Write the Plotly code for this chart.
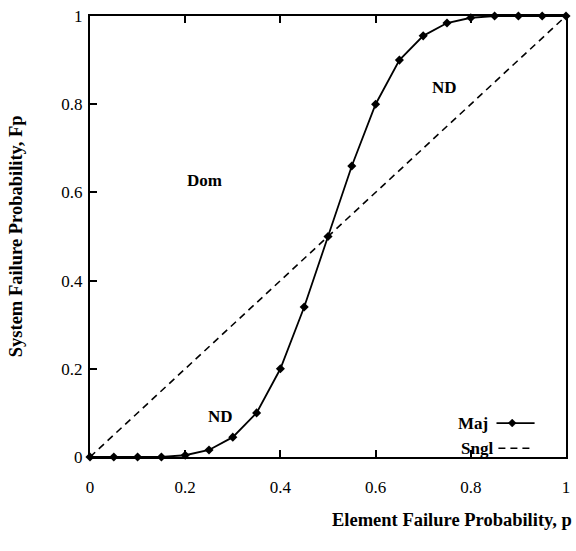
import plotly.graph_objects as go

# Data
p_values = [0.0, 0.05, 0.10, 0.15, 0.20, 0.25, 0.30, 0.35, 0.40, 0.45, 0.50,
            0.55, 0.60, 0.65, 0.70, 0.75, 0.80, 0.85, 0.90, 0.95, 1.0]
maj_values = [0.0, 0.0, 0.0, 0.0, 0.004, 0.016, 0.045, 0.10, 0.20, 0.34, 0.50,
              0.66, 0.80, 0.90, 0.955, 0.984, 0.996, 1.0, 1.0, 1.0, 1.0]
sngl_x = [0.0, 1.0]
sngl_y = [0.0, 1.0]

tick_vals = [0, 0.2, 0.4, 0.6, 0.8, 1.0]
tick_text = ["0", "0.2", "0.4", "0.6", "0.8", "1"]

region_labels = ["Dom", "ND", "ND"]
region_x = [0.24, 0.744, 0.275]
region_y = [0.628, 0.837, 0.091]

FONT = "Liberation Serif"
TXT = 17

fig = go.Figure()
fig.add_trace(go.Scatter(
    x=sngl_x, y=sngl_y, mode="lines", name="Sngl",
    line=dict(color="black", width=1.6, dash="7px,5px"),
    showlegend=False, hoverinfo="skip"))
fig.add_trace(go.Scatter(
    x=p_values, y=maj_values, mode="lines+markers", name="Maj",
    line=dict(color="black", width=1.8),
    marker=dict(symbol="diamond", size=7, color="black"),
    showlegend=False, cliponaxis=False))

for t, xx, yy in zip(region_labels, region_x, region_y):
    fig.add_annotation(x=xx, y=yy, text="<b>%s</b>" % t, showarrow=False,
                       xanchor="center", yanchor="middle",
                       font=dict(family=FONT, size=TXT, color="black"))

# custom legend (text followed by line sample)
LEG_MAJ_Y = 0.077
LEG_SNGL_Y = 0.020
fig.add_annotation(xref="paper", yref="paper", x=0.840, y=LEG_MAJ_Y, text="<b>Maj</b>",
                   showarrow=False, xanchor="right", yanchor="middle",
                   font=dict(family=FONT, size=TXT, color="black"))
fig.add_annotation(xref="paper", yref="paper", x=0.850, y=LEG_SNGL_Y, text="<b>Sngl</b>",
                   showarrow=False, xanchor="right", yanchor="middle",
                   font=dict(family=FONT, size=TXT, color="black"))
fig.add_shape(type="line", xref="paper", yref="paper", x0=0.854, x1=0.934,
              y0=LEG_MAJ_Y, y1=LEG_MAJ_Y, line=dict(color="black", width=1.8))
fig.add_shape(type="path", xref="paper", yref="paper",
              path="M 0.887 %.4f L 0.8953 %.4f L 0.887 %.4f L 0.8787 %.4f Z" % (
                  LEG_MAJ_Y + 0.009, LEG_MAJ_Y, LEG_MAJ_Y - 0.009, LEG_MAJ_Y),
              fillcolor="black", line=dict(color="black", width=0.5))
fig.add_shape(type="line", xref="paper", yref="paper", x0=0.858, x1=0.930,
              y0=LEG_SNGL_Y, y1=LEG_SNGL_Y, line=dict(color="black", width=1.6, dash="7px,5px"))

fig.add_annotation(xref="paper", yref="paper", x=1.016, y=-0.143,
                   text="<b>Element Failure Probability, p</b>",
                   showarrow=False, xanchor="right", yanchor="middle",
                   font=dict(family=FONT, size=18.5, color="black"))
fig.add_annotation(xref="paper", yref="paper", x=-0.156, y=0.5,
                   text="<b>System Failure Probability, Fp</b>", textangle=-90,
                   showarrow=False, xanchor="center", yanchor="middle",
                   font=dict(family=FONT, size=18.5, color="black"))

axis_common = dict(
    range=[0, 1], tickvals=tick_vals, ticktext=tick_text,
    showgrid=False, zeroline=False, showline=True, linecolor="black", linewidth=2,
    ticks="inside", ticklen=7, tickwidth=1.5, tickcolor="black",
    tickfont=dict(family=FONT, size=TXT, color="black"),
    ticklabeloverflow="allow",
)

fig.update_layout(
    width=576, height=551,
    margin=dict(l=90, r=6, t=16, b=94),
    paper_bgcolor="white", plot_bgcolor="white",
    xaxis=dict(**axis_common, mirror="ticks", ticklabelstandoff=14),
    yaxis=dict(**axis_common, mirror=True, ticklabelstandoff=2),
)

fig.write_html(
    "out.html",
    config={"displayModeBar": False},
    post_script="document.body.style.margin='0';document.body.style.overflow='hidden';",
)
